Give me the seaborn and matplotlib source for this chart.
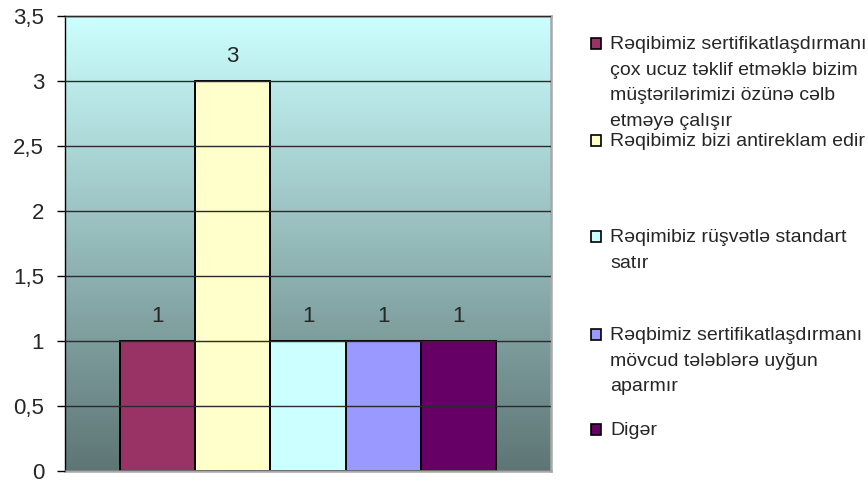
import numpy as np
import pandas as pd
import matplotlib
matplotlib.use("Agg")
import matplotlib.pyplot as plt
import seaborn as sns
from matplotlib.colors import LinearSegmentedColormap
from matplotlib.ticker import FuncFormatter
from matplotlib.patches import Rectangle

# data
categories = [
    "Rəqibimiz sertifikatlaşdırmanı\nçox ucuz təklif etməklə bizim\nmüştərilərimizi özünə cəlb\netməyə çalışır",
    "Rəqibimiz bizi antireklam edir",
    "Rəqimibiz rüşvətlə standart\nsatır",
    "Rəqbimiz sertifikatlaşdırmanı\nmövcud tələblərə uyğun\naparmır",
    "Digər",
]
values = [1, 3, 1, 1, 1]
colors = ["#993366", "#FFFFCC", "#CCFFFF", "#9999FF", "#660066"]

df = pd.DataFrame({"group": [""] * len(categories), "category": categories, "value": values})

sns.set_style("white")
plt.rcParams["font.family"] = ["Liberation Sans", "DejaVu Sans"]

W, H = 868, 483
fig = plt.figure(figsize=(W / 100, H / 100), dpi=100)
ax = fig.add_axes([65 / W, 1 - 471 / H, 486 / W, 455 / H])

# gradient background of the plot area
cmap = LinearSegmentedColormap.from_list("bg", ["#5E7575", "#CCFFFF"])
grad = np.linspace(0, 1, 256).reshape(-1, 1)
ax.imshow(grad, extent=[-0.5, 0.5, 0, 3.5], origin="lower", aspect="auto",
          cmap=cmap, zorder=0)

sns.barplot(data=df, x="group", y="value", hue="category", hue_order=categories,
            palette=colors, width=0.774, edgecolor="black", linewidth=1.4,
            saturation=1, legend=False, ax=ax, zorder=2)

for c in ax.containers:
    ax.bar_label(c, fmt="%g", padding=10, fontsize=16)

ax.set_xlim(-0.5, 0.5)
ax.set_ylim(0, 3.5)
ax.set_yticks(np.arange(0, 3.51, 0.5))
ax.yaxis.set_major_formatter(FuncFormatter(lambda v, p: f"{v:g}".replace(".", ",")))
ax.tick_params(axis="y", labelsize=16, length=6, width=1, color="black", left=True, pad=9)
ax.set_xticks([])
ax.set_xlabel("")
ax.set_ylabel("")
ax.yaxis.grid(True, color="#2A2A2A", linewidth=1)
ax.set_axisbelow(False)
for ln in ax.get_ygridlines():
    ln.set_zorder(1)

ax.spines["left"].set_color("black")
ax.spines["left"].set_linewidth(1)
for s in ["top", "right", "bottom"]:
    ax.spines[s].set_color("#A8A8A8")
    ax.spines[s].set_linewidth(1.8)

# legend, laid out the way the spreadsheet placed it (first baseline of each entry)
legend_base = [49, 146, 242, 340, 435]
line_step = 25.7
for lab, col, yb in zip(categories, colors, legend_base):
    fig.patches.append(Rectangle((591 / W, 1 - yb / H), 10 / W, 11 / H,
                                 transform=fig.transFigure, facecolor=col,
                                 edgecolor="black", linewidth=1.2))
    for i, line in enumerate(lab.split("\n")):
        fig.text(610 / W, 1 - (yb + i * line_step) / H, line, fontsize=14,
                 va="baseline", ha="left")

fig.savefig("out.png", dpi=100)
